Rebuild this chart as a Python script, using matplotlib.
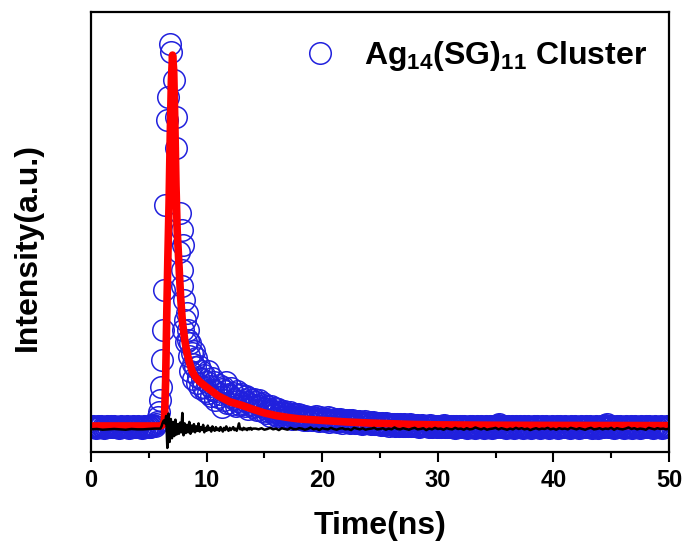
import numpy as np
import matplotlib
matplotlib.use('Agg')
import matplotlib.pyplot as plt

plt.rcParams['font.family'] = ['Liberation Sans', 'DejaVu Sans']
plt.rcParams['font.weight'] = 'bold'
plt.rcParams['mathtext.fontset'] = 'custom'
plt.rcParams['mathtext.rm'] = 'Liberation Sans:bold'
plt.rcParams['mathtext.bf'] = 'Liberation Sans:bold'

BLUE = '#2020dd'

# ---- decay data (circles) ----
# flat part before the rise, 0.0 .. 5.7 ns every 0.1 ns
t_pre = np.round(np.arange(0, 58) / 10, 1)
i_pre = [1, -1, 2, 0, -2, 1, 3, 0, -1, 2,
         0, -2, 1, 0, 2, -1, 1, 3, 0, -1,
         2, 0, -1, 1, -2, 0, 2, 1, -1, 0,
         1, 3, 0, -2, 1, 0, 2, -1, 0, 1,
         -1, 2, 0, 1, -2, 0, 3, 1, -1, 2,
         0, 1, 3, 2, 5, 4, 8, 14]

# rise, peak and fast decay, read point by point
t_peak = [5.80, 5.90, 6.00, 6.08, 6.16, 6.22, 6.28, 6.38, 6.58, 6.70, 6.86, 6.94,
          7.18, 7.33, 7.33, 7.60, 7.70, 7.85, 7.85, 7.90, 7.98, 7.98, 8.07, 8.13,
          8.20, 8.28, 8.35, 8.42, 8.50, 8.55, 8.60, 8.71, 8.80, 8.85, 8.90, 9.00,
          9.10, 9.15, 9.28, 9.35, 9.45, 9.50, 9.60, 9.71, 9.80, 9.90, 10.00, 10.10,
          10.15, 10.25, 10.35, 10.45, 10.55, 10.65, 10.73, 10.85, 10.95, 11.05,
          11.20, 11.30, 11.31]
i_peak = [27, 40, 72, 108, 180, 261, 368, 597, 825, 887, 1030, 1009,
          933, 833, 750, 470, 575, 530, 422, 380, 489, 261, 341, 288,
          230, 306, 262, 234, 190, 150, 225, 199, 170, 128, 205, 161,
          185, 118, 134, 165, 104, 150, 128, 108, 140, 96, 122, 150,
          91, 110, 84, 132, 100, 120, 73, 96, 82, 112,
          88, 102, 54]

# slow tail, 11.4 .. 50.0 ns every 0.1 ns
t_tail = np.round(np.arange(114, 501) / 10, 1)
i_tail = [108, 72, 96, 120, 64, 90,
          84, 104, 62, 92, 76, 58, 98, 70, 86, 60,
          88, 64, 74, 56, 84, 68, 50, 78, 62, 72,
          54, 76, 58, 68, 46, 72, 56, 62, 44, 66,
          52, 38, 58, 42, 50, 30, 56, 44, 34, 52,
          40, 30, 48, 34, 44, 28, 38, 42, 26, 36,
          34, 26, 40, 30, 22, 36, 28, 32, 24, 34,
          28, 22, 32, 26, 20, 30, 24, 18, 28, 22,
          26, 20, 28, 18, 24, 30, 20, 16, 26, 22,
          20, 24, 16, 22, 18, 26, 14, 20, 24, 16,
          20, 16, 22, 14, 18, 22, 16, 12, 20, 18,
          16, 20, 14, 18, 12, 16, 20, 14, 10, 16,
          14, 10, 16, 12, 8, 14, 12, 16, 10, 12,
          10, 13, 8, 11, 14, 9, 7, 12, 10, 8,
          9, 6, 11, 8, 5, 10, 7, 9, 4, 8,
          7, 5, 8, 3, 6, 9, 4, 7, 5, 6,
          4, 7, 3, 6, 2, 5, 7, 3, 5, 4,
          5, 2, 6, 3, 1, 4, 6, 2, 4, 3,
          2, 4, 1, 5, 3, 0, 4, 2, 3, 1,
          3, 1, 4, 0, 2, 5, 1, 3, 0, 2,
          1, 3, -1, 2, 0, -2, 3, 1, 0, 2,
          -1, 2, 0, 3, 1, -2, 1, 0, 2, -1,
          2, 0, -2, 1, 3, 0, -1, 2, 0, 1,
          -2, 1, 3, 0, -1, 2, 0, -2, 1, 3,
          0, 2, 6, 9, 4, 1, -1, 2, 0, -2,
          1, 3, 0, -1, 2, 0, -3, 1, 2, 0,
          -1, 2, 0, 1, -2, 3, 0, -1, 2, 1,
          0, -2, 1, 3, 0, -1, 2, 0, -2, 1,
          2, 0, -1, 1, 3, 0, -2, 1, 0, 2,
          -1, 1, 0, 2, -2, 0, 3, 1, -1, 0,
          2, -1, 1, 0, -2, 2, 0, 1, -1, 3,
          0, 1, -2, 0, 2, -1, 1, 0, 3, -1,
          1, 0, 2, -2, 0, 1, -1, 2, 0, -2,
          1, 3, 0, -1, 2, 5, 8, 4, 1, -1,
          0, 2, -2, 1, 0, 3, -1, 0, 2, -1,
          1, -2, 0, 2, 1, -1, 0, 3, -2, 1,
          0, 2, -1, 1, 0, -2, 2, 0, 1, -1,
          2, 0, -1, 3, 0, 1, -2, 0, 2, 1,
          -1, 1, 0, 2, -2, 0, 1, -1, 2, 0,
          1]

# ---- fitted curve (red) ----
fit_t = [0, 5.9, 6.1, 6.25, 6.35, 6.45, 6.55, 6.65, 6.75, 6.85, 6.95, 7.05,
         7.15, 7.25, 7.35, 7.45, 7.6, 7.75, 7.9, 8.1, 8.3, 8.5, 8.75, 9.0,
         9.4, 9.8, 10.3, 11.0, 12.0, 13.0, 14.0, 15.0, 16.0, 17.0, 18.0, 20.0,
         22.0, 24.0, 26.0, 28.0, 30.0, 35.0, 40.0, 50.0]
fit_i = [3, 3, 4, 8, 20, 120, 300, 460, 600, 780, 930, 1000,
         960, 820, 650, 530, 440, 350, 285, 235, 200, 175, 150, 136,
         122, 112, 100, 84, 68, 59, 48, 38, 31, 26, 22, 18,
         14, 11, 9, 7, 6, 5, 4.5, 4]

# ---- instrument response (black) ----
irf_t_a = np.arange(0, 6.0, 0.5)
irf_i_a = [-6, -5, -7, -6, -5, -6, -7, -5, -6, -6, -5, -4]
irf_t_b = np.round(np.arange(60, 141) / 10, 1)
irf_i_b = [-4, 2, 12, 18, 10, 30, -56, 36, -40, 22,
           -30, 14, -24, 20, -20, 8, -18, 12, -14, 38,
           -22, 10, -16, 6, -14, 14, -18, 4, -12, 8,
           -14, 2, -10, 10, -12, 0, -8, 6, -14, -2,
           -10, 4, -8, -2, -12, 2, -6, -10, 0, -8,
           -4, -10, 0, -6, -12, -2, -8, 2, -6, -10,
           -2, -8, -4, 0, -8, -4, -10, -2, 10, -6,
           -4, -8, -2, -6, -4, -8, -3, -6, -2, -7, -4]
irf_t_c = np.arange(14.25, 50.01, 0.25)
irf_i_c = [-4, -6, -3, -7, -5, -2, -6, -4, -8, -3,
           -5, -7, -2, -5, -6, -3, -4, -7, -5, -1,
           -6, -4, -8, -3, -5, -6, -2, -5, -7, -4,
           -3, -6, -5, -8, -2, -4, -6, -3, -7, -5,
           -4, -2, -6, -5, -3, -7, -4, -6, -1, -5,
           -6, -3, -5, -7, -4, -2, -6, -5, -3, -8,
           -4, -6, -2, -5, -4, -7, -3, -5, -6, -2,
           -5, -4, -7, -3, -6, -5, -1, -4, -6, -3,
           -7, -5, -4, -2, -6, -3, -5, -7, -4, -6,
           -2, -5, -3, -6, -4, -8, -5, -3, -6, -4,
           -5, -2, -6, -4, -7, -3, -5, -4, -6, -2,
           -4, -6, -3, -5, -7, -4, -2, -6, -5, -3,
           -6, -4, -5, -2, -7, -3, -5, -6, -4, -1,
           -5, -3, -6, -4, -5, -7, -2, -4, -6, -3,
           -5, -4, -6, -4]

t_data = np.concatenate([t_pre, t_peak, t_tail])
i_data = np.concatenate([i_pre, i_peak, i_tail])
irf_t = np.concatenate([irf_t_a, irf_t_b, irf_t_c])
irf_i = np.concatenate([irf_i_a, irf_i_b, irf_i_c])

fig = plt.figure(figsize=(6.86, 5.42), dpi=100)
ax = fig.add_axes([0.1327, 0.166, 0.8425, 0.812])

ax.plot(t_data, i_data, 'o', ls='none', mfc='none', mec=BLUE, ms=15.5, mew=1.1,
        zorder=1, label=r'Ag$_{\mathbf{14}}$(SG)$_{\mathbf{11}}$ Cluster')
ax.plot(fit_t, fit_i, color='red', lw=5.5, zorder=2, solid_capstyle='round')
ax.plot(irf_t, irf_i, color='black', lw=1.8, zorder=3)

ax.set_xlim(0, 50)
ax.set_ylim(-67, 1116)
ax.set_xticks([0, 10, 20, 30, 40, 50])
ax.set_xticks([5, 15, 25, 35, 45], minor=True)
ax.set_yticks([])
ax.tick_params(axis='x', which='major', direction='out', length=7, width=1.5,
               labelsize=17, pad=5)
ax.tick_params(axis='x', which='minor', direction='out', length=4.5, width=1.5)
for lab in ax.get_xticklabels():
    lab.set_fontweight('bold')
for sp in ax.spines.values():
    sp.set_linewidth(1.6)

ax.set_xlabel('Time(ns)', fontsize=23, fontweight='bold', labelpad=14)
ax.set_ylabel('Intensity(a.u.)', fontsize=23, fontweight='bold')
ax.yaxis.set_label_coords(-0.083, 0.466)

ax.legend(loc='upper right', bbox_to_anchor=(1.0, 0.99), frameon=False,
          fontsize=23, handletextpad=0.75, handlelength=1.2, borderaxespad=0.3)

fig.savefig('out.png', dpi=100)
